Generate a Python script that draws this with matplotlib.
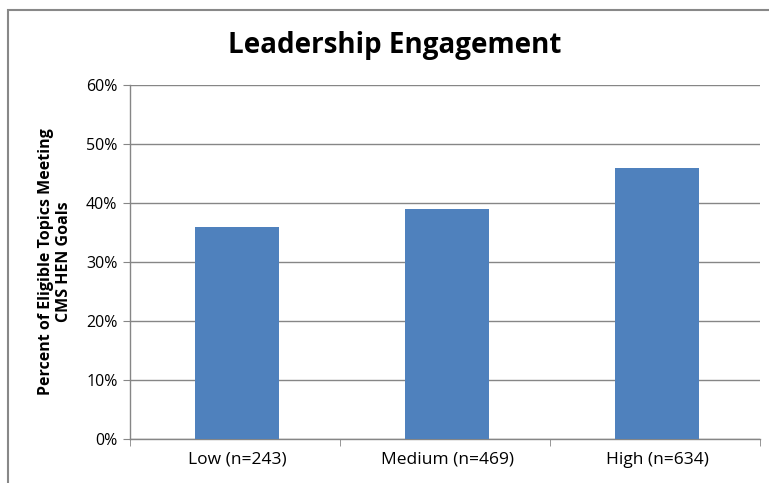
import matplotlib
matplotlib.use("Agg")
import matplotlib.pyplot as plt
from matplotlib.patches import Rectangle
from matplotlib import font_manager

categories = ["Low (n=243)", "Medium (n=469)", "High (n=634)"]
values = [36, 39, 46]
yticks = [0, 10, 20, 30, 40, 50, 60]

names = {f.name for f in font_manager.fontManager.ttflist}
fam = [f for f in ["Liberation Sans Narrow", "Open Sans", "DejaVu Sans"] if f in names]
plt.rcParams['font.family'] = fam + ["DejaVu Sans"]

fig = plt.figure(figsize=(7.69, 4.83), dpi=100)
ax = fig.add_axes([130/769, 1-439/483, 630/769, 354/483])

pos = [i + 0.51 for i in range(len(categories))]
ax.bar(pos, values, width=0.4, color="#4F81BD", zorder=3)

ax.set_xlim(0, 3)
ax.set_ylim(0, 60)
ax.set_yticks(yticks)
ax.set_yticklabels([f"{v}%" for v in yticks], fontsize=11.5)
ax.set_xticks(pos)
ax.set_xticklabels(categories, fontsize=12.5)
ax.set_xticks([0, 1, 2, 3], minor=True)
ax.tick_params(axis='x', which='major', length=0, pad=9)
ax.tick_params(axis='x', which='minor', length=5, color="#868686")
ax.tick_params(axis='y', length=5, color="#868686", pad=4)
ax.yaxis.grid(True, color="#868686", linewidth=1, zorder=0)
ax.set_axisbelow(True)
for s in ["top", "right"]:
    ax.spines[s].set_visible(False)
for s in ["left", "bottom"]:
    ax.spines[s].set_color("#868686")
    ax.spines[s].set_linewidth(1)

ax.set_ylabel("Percent of Eligible Topics Meeting\nCMS HEN Goals", fontsize=11.5,
              fontweight="bold", labelpad=10, linespacing=1.2)

fig.text(395/769, 1-45/483, "Leadership Engagement", fontsize=20, fontweight="bold",
         ha="center", va="center")

fig.patches.append(Rectangle((8/769, -0.05), 1.2, 1.05 - 10/483, transform=fig.transFigure,
                             fill=False, edgecolor="#888888", linewidth=1.5))

fig.savefig("out.png", dpi=100)
